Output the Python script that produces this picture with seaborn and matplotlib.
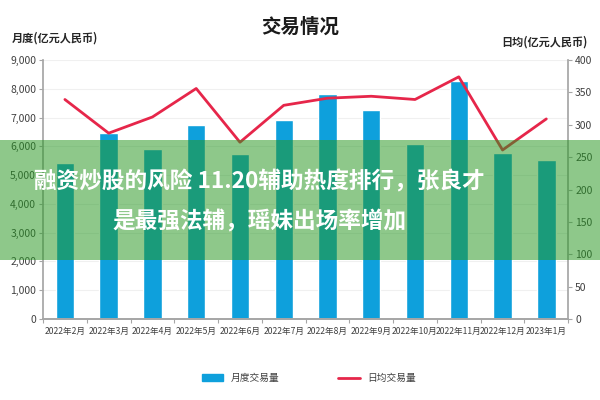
import matplotlib
matplotlib.use("Agg")
import matplotlib.pyplot as plt
import seaborn as sns
import pandas as pd
import numpy as np
from matplotlib.patches import Rectangle
from matplotlib.lines import Line2D
from matplotlib.ticker import FuncFormatter, MultipleLocator

months = ["2022年2月", "2022年3月", "2022年4月", "2022年5月", "2022年6月", "2022年7月",
          "2022年8月", "2022年9月", "2022年10月", "2022年11月", "2022年12月", "2023年1月"]
monthly_volume = [5420, 6450, 5900, 6740, 5730, 6900, 7810, 7250, 6080, 8260, 5760, 5520]
daily_avg = [339, 287, 312, 356, 273, 330, 341, 344, 339, 374, 261, 309]

title = "交易情况"
left_label = "月度(亿元人民币)"
right_label = "日均(亿元人民币)"
bar_name = "月度交易量"
line_name = "日均交易量"
overlay_text = "融资炒股的风险 11.20辅助热度排行，张良才\n是最强法辅，瑶妹出场率增加"

sns.set_theme(style="white")
plt.rcParams['font.family'] = ['Noto Sans CJK SC', 'DejaVu Sans']
plt.rcParams['axes.unicode_minus'] = False

df = pd.DataFrame({"month": months, "volume": monthly_volume, "daily": daily_avg})

fig = plt.figure(figsize=(6, 4), dpi=100)
ax = fig.add_axes([0.0717, 0.2025, 0.8753, 0.6475])

blue = "#0ea0dc"
red = "#e6264a"
gray = "#a6a6a6"
txt = "#404040"

sns.barplot(data=df, x="month", y="volume", color=blue, width=0.42, ax=ax,
            saturation=1, zorder=2)
ax.set_ylim(0, 9000)
ax.yaxis.set_major_locator(MultipleLocator(1000))
ax.yaxis.set_major_formatter(FuncFormatter(lambda v, p: f"{int(v):,}"))
ax.set_xlabel("")
ax.set_ylabel("")
ax.grid(axis="y", color="#f0f0f0", linewidth=0.8, zorder=0)
ax.set_axisbelow(True)

ax2 = ax.twinx()
sns.lineplot(data=df, x="month", y="daily", color=red, linewidth=2, ax=ax2,
             sort=False, zorder=3)
ax2.set_ylim(0, 400)
ax2.yaxis.set_major_locator(MultipleLocator(50))
ax2.set_ylabel("")
ax2.set_xlabel("")
ax.set_xlim(-0.5, len(months) - 0.5)

for a in (ax, ax2):
    a.spines["top"].set_visible(False)
    a.spines["left"].set_visible(False)
    a.spines["right"].set_visible(False)
    a.spines["bottom"].set_color(gray)
ax.spines["left"].set_visible(True)
ax.spines["left"].set_color(gray)
ax2.spines["right"].set_visible(True)
ax2.spines["right"].set_color(gray)

ax.tick_params(axis="y", labelsize=7.5, colors=txt, length=3, width=0.8,
               left=True, color=gray, pad=2)
ax2.tick_params(axis="y", labelsize=7.5, colors=txt, length=3, width=0.8,
                right=True, color=gray, pad=2)
ax.tick_params(axis="x", labelsize=6.2, colors=txt, length=0, pad=6)
ax.set_xticks(np.arange(-0.5, len(months), 1.0), minor=True)
ax.tick_params(axis="x", which="minor", bottom=True, length=3, color=gray, width=0.8)

fig.text(0.5, 0.932, title, ha="center", va="center", fontsize=14,
         fontweight="bold", color="#1a1a1a")
fig.text(0.02, 0.905, left_label, ha="left", va="center", fontsize=8,
         fontweight="bold", color="#262626")
fig.text(0.98, 0.895, right_label, ha="right", va="center", fontsize=8,
         fontweight="bold", color="#262626")

handles = [Rectangle((0, 0), 1, 1, color=blue),
           Line2D([0], [0], color=red, linewidth=2)]
fig.legend(handles, [bar_name, line_name], loc="center", ncol=2,
           bbox_to_anchor=(0.515, 0.055), frameon=False, fontsize=7,
           columnspacing=6.0, handlelength=2.2, handleheight=0.6,
           labelcolor=txt)

band = Rectangle((0, 0.35), 1, 0.30, transform=fig.transFigure,
                 facecolor="#269720", alpha=0.52, edgecolor="none", zorder=5)
fig.patches.append(band)
fig.text(0.433, 0.4955, overlay_text, ha="center", va="center", fontsize=16.3,
         fontweight="bold", color="white", zorder=6, linespacing=1.9)

fig.savefig("out.png", dpi=100)
